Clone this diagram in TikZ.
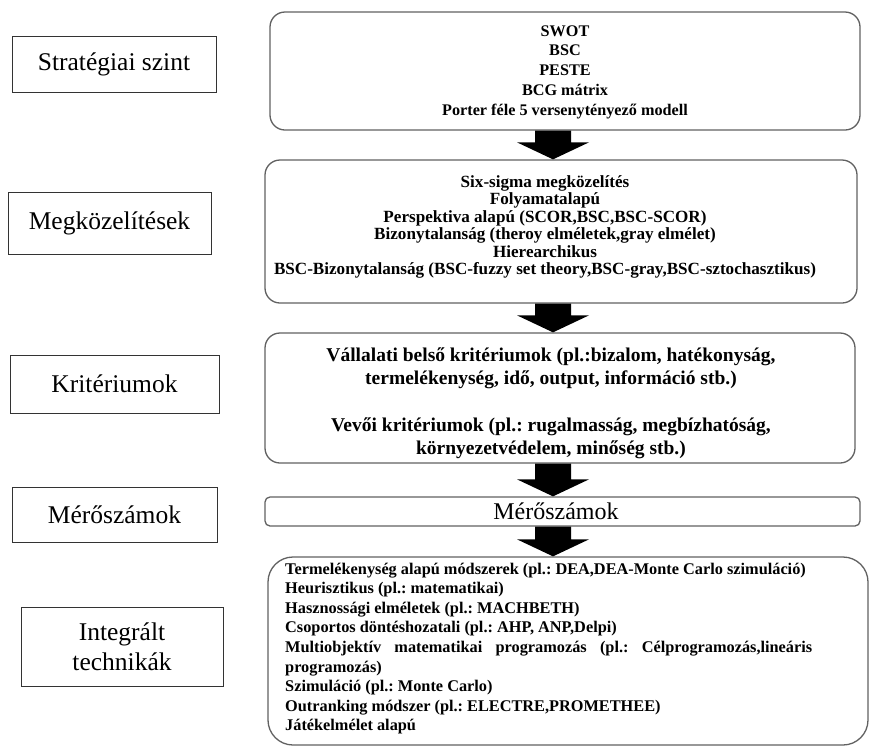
\documentclass[tikz,border=0pt]{standalone}
\usepackage{fontspec}
\setmainfont{Liberation Serif}
\usetikzlibrary{calc}
\frenchspacing
\newcommand\blockarr[2]{%
  \fill[black] let \p1=(ax|-#1.south), \p2=(ax|-#2.north) in
  (\x1-18pt,\y1) -- (\x1+18pt,\y1) -- (\x1+18pt,\y2+17pt) -- (\x1+36pt,\y2+17pt)
  -- (\x1,\y2) -- (\x1-36pt,\y2+17pt) -- (\x1-18pt,\y2+17pt) -- cycle;}
\begin{document}
\begin{tikzpicture}[x=1pt,y=-1pt,
  lbl/.style={draw=black!80,line width=0.9pt,font=\fontsize{25.5}{30}\selectfont,align=center,inner sep=0pt},
  rbox/.style={draw=black!62,line width=1.3pt,inner sep=0pt},
  btxt/.style={font=\fontsize{16.2}{19.7}\bfseries\selectfont,align=center,inner sep=0pt}]
\useasboundingbox (0,0) rectangle (871,748);
\fill[white] (0,0) rectangle (871,748);
\coordinate (ax) at (553,0);

% left labels
\node[lbl,minimum width=204pt,minimum height=56pt] (l1) at (114,64) {Stratégiai szint};
\node[lbl,minimum width=203pt,minimum height=62pt] (l2) at (109.5,223) {Megközelítések};
\node[lbl,minimum width=209pt,minimum height=58pt] (l3) at (114.5,384) {Kritériumok};
\node[lbl,minimum width=205pt,minimum height=55pt] (l4) at (114.5,514.5) {Mérőszámok};
\node[lbl,minimum width=202pt,minimum height=79pt] (l5) at (122,646.5) {Integrált\\technikák};

% right boxes
\node[rbox,rounded corners=15pt,minimum width=590pt,minimum height=118pt] (b1) at (565,71) {};
\node[btxt] (t1) at (565,72) {SWOT\\BSC\\PESTE\\BCG mátrix\\Porter féle 5 versenytényező modell};

\node[rbox,rounded corners=15pt,minimum width=592pt,minimum height=143pt] (b2) at (561,231.5) {};
\node[btxt,font=\fontsize{17.1}{17.5}\bfseries\selectfont] (t2) at (545,227) {Six-sigma megközelítés\\Folyamatalapú\\Perspektiva alapú (SCOR,BSC,BSC-SCOR)\\Bizonytalanság (theroy elméletek,gray elmélet)\\Hierearchikus\\BSC-Bizonytalanság (BSC-fuzzy set theory,BSC-gray,BSC-sztochasztikus)};

\node[rbox,rounded corners=15pt,minimum width=590pt,minimum height=130pt] (b3) at (560,398) {};
\node[btxt,font=\fontsize{19.5}{23.3}\bfseries\selectfont] (t3) at (551,403.5) {Vállalati belső kritériumok (pl.:bizalom, hatékonyság,\\termelékenység, idő, output, információ stb.)\\[23.3pt]Vevői kritériumok (pl.: rugalmasság, megbízhatóság,\\környezetvédelem, minőség stb.)};

\node[rbox,rounded corners=5pt,minimum width=595pt,minimum height=29pt] (b4) at (562.5,511.5) {};
\node[inner sep=0pt,font=\fontsize{24}{28}\selectfont] (t4) at (556,511.5) {Mérőszámok};

\node[rbox,rounded corners=25pt,minimum width=600pt,minimum height=188pt] (b5) at (568,651) {};
\node[anchor=north west,inner sep=0pt,text width=527pt,align=justify,
  font=\fontsize{16.3}{19.6}\bfseries\selectfont] (t5) at (285,562.5) {\hyphenpenalty=10000\parindent=0pt
Termelékenység alapú módszerek (pl.: DEA,DEA-Monte Carlo szimuláció)\par
Heurisztikus (pl.: matematikai)\par
Hasznossági elméletek (pl.: MACHBETH)\par
Csoportos döntéshozatali (pl.: AHP, ANP,Delpi)\par
Multiobjektív matematikai programozás (pl.: Célprogramozás,lineáris\linebreak programozás)\par
Szimuláció (pl.: Monte Carlo)\par
Outranking módszer (pl.: ELECTRE,PROMETHEE)\par
Játékelmélet alapú};

% block arrows
\blockarr{b1}{b2}
\blockarr{b2}{b3}
\blockarr{b3}{b4}
\blockarr{b4}{b5}
\end{tikzpicture}
\end{document}
